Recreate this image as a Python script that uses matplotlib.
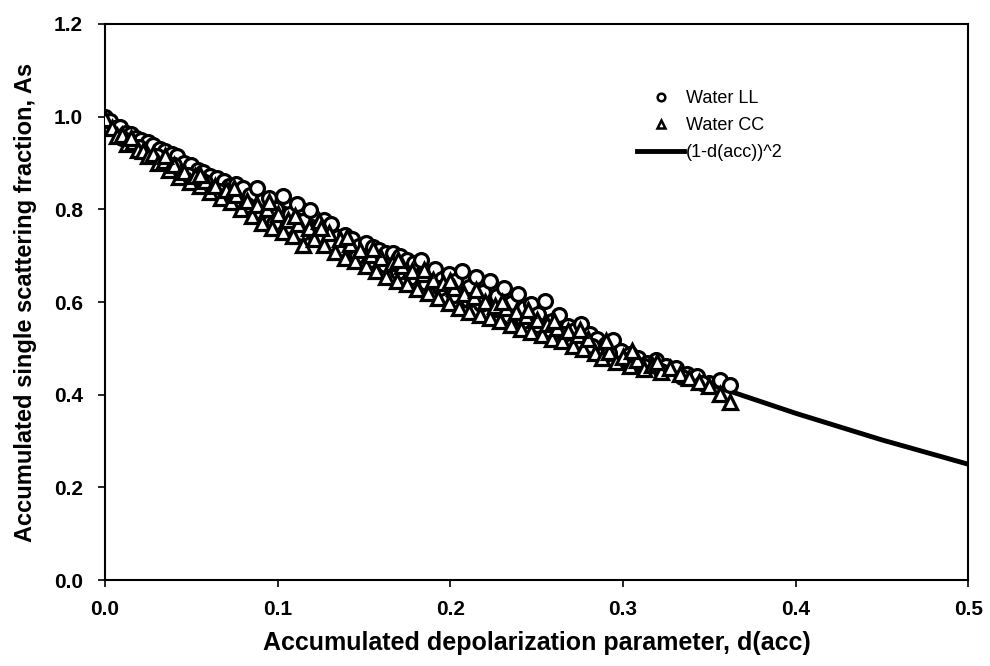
import numpy as np
import matplotlib
matplotlib.use("Agg")
import matplotlib.pyplot as plt

plt.rcParams['font.family'] = ['Liberation Sans', 'DejaVu Sans']

# Water LL (circles)
ll_x = [0.000, 0.003, 0.006, 0.009, 0.012, 0.015, 0.018, 0.021, 0.025, 0.028,
        0.032, 0.035, 0.039, 0.042, 0.046, 0.050, 0.054, 0.057, 0.061, 0.065,
        0.069, 0.072, 0.076, 0.080, 0.084, 0.088, 0.091, 0.095, 0.099, 0.103,
        0.107, 0.111, 0.115, 0.119, 0.123, 0.127, 0.131, 0.135, 0.139, 0.143,
        0.147, 0.151, 0.155, 0.159, 0.163, 0.167, 0.171, 0.175, 0.179, 0.183,
        0.187, 0.191, 0.195, 0.199, 0.203, 0.207, 0.211, 0.215, 0.219, 0.223,
        0.227, 0.231, 0.235, 0.239, 0.243, 0.247, 0.251, 0.255, 0.259, 0.263,
        0.268, 0.272, 0.276, 0.281, 0.285, 0.290, 0.294, 0.299, 0.304, 0.309,
        0.314, 0.319, 0.325, 0.331, 0.337, 0.343, 0.350, 0.356, 0.362,
        0.010, 0.020, 0.030, 0.040, 0.048, 0.058, 0.066, 0.074, 0.082, 0.090,
        0.098, 0.106, 0.114, 0.122, 0.130, 0.138, 0.146, 0.154, 0.162, 0.170,
        0.178, 0.186, 0.194, 0.202, 0.210, 0.218, 0.226, 0.234, 0.242, 0.250,
        0.258, 0.266, 0.274, 0.282, 0.292, 0.302, 0.312, 0.322, 0.334, 0.346]
ll_y = [1.000, 0.990, 0.975, 0.978, 0.965, 0.962, 0.955, 0.950, 0.945, 0.938,
        0.930, 0.925, 0.920, 0.915, 0.900, 0.895, 0.885, 0.880, 0.872, 0.868,
        0.862, 0.850, 0.855, 0.845, 0.832, 0.845, 0.818, 0.825, 0.800, 0.828,
        0.790, 0.812, 0.775, 0.798, 0.760, 0.778, 0.768, 0.740, 0.745, 0.735,
        0.720, 0.728, 0.718, 0.712, 0.705, 0.705, 0.700, 0.690, 0.685, 0.690,
        0.665, 0.672, 0.650, 0.660, 0.645, 0.668, 0.632, 0.655, 0.622, 0.645,
        0.612, 0.630, 0.598, 0.618, 0.588, 0.596, 0.575, 0.602, 0.560, 0.572,
        0.548, 0.540, 0.552, 0.530, 0.520, 0.510, 0.518, 0.495, 0.488, 0.480,
        0.468, 0.475, 0.462, 0.458, 0.445, 0.440, 0.425, 0.432, 0.420,
        0.955, 0.935, 0.915, 0.895, 0.875, 0.860, 0.840, 0.830, 0.810, 0.795,
        0.770, 0.765, 0.750, 0.740, 0.725, 0.715, 0.700, 0.690, 0.680, 0.665,
        0.655, 0.640, 0.630, 0.615, 0.605, 0.595, 0.585, 0.570, 0.560, 0.550,
        0.540, 0.530, 0.515, 0.505, 0.490, 0.475, 0.462, 0.452, 0.438, 0.425]

# Water CC (triangles)
cc_x = [0.000, 0.004, 0.007, 0.010, 0.013, 0.016, 0.019, 0.022, 0.025, 0.028,
        0.031, 0.034, 0.037, 0.040, 0.043, 0.046, 0.049, 0.052, 0.055, 0.058,
        0.061, 0.064, 0.067, 0.070, 0.073, 0.076, 0.079, 0.082, 0.085, 0.088,
        0.091, 0.094, 0.097, 0.100, 0.103, 0.106, 0.109, 0.112, 0.115, 0.118,
        0.121, 0.124, 0.127, 0.130, 0.133, 0.136, 0.139, 0.142, 0.145, 0.148,
        0.151, 0.154, 0.157, 0.160, 0.163, 0.166, 0.169, 0.172, 0.175, 0.178,
        0.181, 0.184, 0.187, 0.190, 0.193, 0.196, 0.199, 0.202, 0.205, 0.208,
        0.211, 0.214, 0.217, 0.220, 0.223, 0.226, 0.229, 0.232, 0.235, 0.238,
        0.241, 0.244, 0.247, 0.250, 0.253, 0.256, 0.259, 0.262, 0.265, 0.268,
        0.271, 0.274, 0.277, 0.280, 0.284, 0.288, 0.292, 0.296, 0.300, 0.304,
        0.308, 0.312, 0.317, 0.322, 0.327, 0.333, 0.338, 0.344, 0.350, 0.356,
        0.362,
        0.015, 0.035, 0.055, 0.075, 0.095, 0.110, 0.125, 0.140, 0.155, 0.170,
        0.185, 0.200, 0.215, 0.230, 0.245, 0.260, 0.275, 0.290, 0.305, 0.320]
cc_y = [0.995, 0.975, 0.958, 0.960, 0.942, 0.945, 0.928, 0.925, 0.915, 0.920,
        0.900, 0.905, 0.885, 0.895, 0.870, 0.880, 0.860, 0.872, 0.850, 0.862,
        0.838, 0.850, 0.825, 0.842, 0.815, 0.830, 0.800, 0.818, 0.785, 0.810,
        0.770, 0.800, 0.760, 0.790, 0.752, 0.778, 0.742, 0.768, 0.722, 0.760,
        0.735, 0.775, 0.722, 0.750, 0.708, 0.735, 0.695, 0.725, 0.688, 0.712,
        0.678, 0.702, 0.668, 0.695, 0.655, 0.685, 0.645, 0.678, 0.638, 0.668,
        0.628, 0.660, 0.620, 0.648, 0.608, 0.640, 0.598, 0.630, 0.588, 0.618,
        0.578, 0.610, 0.572, 0.600, 0.565, 0.592, 0.558, 0.588, 0.550, 0.578,
        0.542, 0.570, 0.535, 0.562, 0.528, 0.552, 0.520, 0.545, 0.515, 0.538,
        0.505, 0.528, 0.498, 0.520, 0.490, 0.480, 0.492, 0.470, 0.482, 0.462,
        0.475, 0.455, 0.465, 0.448, 0.458, 0.445, 0.435, 0.428, 0.418, 0.402,
        0.385,
        0.955, 0.915, 0.875, 0.845, 0.815, 0.785, 0.760, 0.740, 0.715, 0.690,
        0.670, 0.645, 0.625, 0.600, 0.582, 0.560, 0.540, 0.515, 0.495, 0.470]

# (1-d(acc))^2 reference curve
fit_x = [0.00, 0.05, 0.10, 0.15, 0.20, 0.25, 0.30, 0.35, 0.40, 0.45, 0.50]
fit_y = [1.000, 0.9025, 0.810, 0.7225, 0.640, 0.5625, 0.490, 0.4225, 0.360, 0.3025, 0.250]

fig = plt.figure(figsize=(9.9, 6.66), dpi=100)
ax = fig.add_axes([0.106, 0.129, 0.872, 0.835])

ax.plot(fit_x, fit_y, color='black', lw=3.5, zorder=2, label='(1-d(acc))^2')
ax.plot(ll_x, ll_y, 'o', ms=10, mfc='white', mec='black', mew=2.3,
        zorder=3, label='Water LL')
ax.plot(cc_x, cc_y, '^', ms=10, mfc='white', mec='black', mew=2.3,
        zorder=4, label='Water CC')

ax.set_xlim(0, 0.5)
ax.set_ylim(0, 1.2)
ax.set_xticks(np.arange(0, 0.51, 0.1))
ax.set_yticks(np.arange(0, 1.21, 0.2))
ax.xaxis.set_major_formatter(matplotlib.ticker.FormatStrFormatter('%.1f'))
ax.yaxis.set_major_formatter(matplotlib.ticker.FormatStrFormatter('%.1f'))
ax.tick_params(direction='out', length=5, width=1.2, labelsize=15, pad=9)
ax.tick_params(axis='y', pad=11)
for lab in ax.get_xticklabels() + ax.get_yticklabels():
    lab.set_fontweight('bold')
for s in ax.spines.values():
    s.set_linewidth(1.5)

ax.set_xlabel('Accumulated depolarization parameter, d(acc)', fontsize=18,
              fontweight='bold', labelpad=9)
ax.set_ylabel('Accumulated single scattering fraction, As', fontsize=17,
              fontweight='bold', labelpad=12)

handles, labels = ax.get_legend_handles_labels()
order = [1, 2, 0]
leg = ax.legend([handles[i] for i in order], [labels[i] for i in order],
                loc='upper left', bbox_to_anchor=(0.598, 0.91), frameon=False,
                fontsize=13, handlelength=2.6, handletextpad=0.1,
                labelspacing=0.55, markerscale=0.55)
for h in leg.legend_handles[:2]:
    h.set_markeredgewidth(1.8)

fig.savefig('out.png', dpi=100)
